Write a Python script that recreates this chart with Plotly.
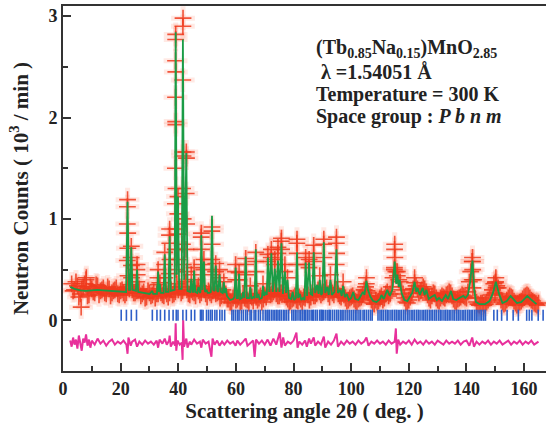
import plotly.graph_objects as go

# ---------------- data ----------------
# calculated profile: (2theta, counts in 10^3/min)
calc_x = [2.5, 4, 6, 8, 10, 12, 14, 16, 18, 20, 21.9, 22.4, 22.9, 23.3, 23.7, 24.1, 25.3, 25.7, 26.1, 28, 30,
          31.0, 31.3, 32.6, 33.0, 33.3, 33.6, 33.9, 34.9, 35.3, 35.7, 36.6, 37.0, 37.4, 38.2, 38.75, 39.1, 39.5,
          39.9, 40.3, 41.2, 41.6, 42.05, 42.8, 43.2, 44.1, 44.5, 44.9, 45.2, 45.5, 45.9, 46.6, 47.0, 47.5, 47.7,
          48.0, 48.4, 48.9, 49.3, 49.8, 50.2, 50.8, 51.3, 51.7, 52.1, 52.6, 53.0, 53.5, 53.9, 54.3, 54.8, 55.4,
          55.8, 56.1, 56.5, 56.9, 58.0, 59.0, 59.5, 59.9, 60.3, 60.7, 61.1, 61.5, 62.1, 62.5, 62.9, 63.4, 63.8,
          64.6, 65.0, 65.4, 66.0, 66.5, 66.9, 67.3, 67.8, 68.2, 69.0, 69.4, 69.8, 70.3, 70.7, 71.1, 71.6, 72.3,
          72.8, 73.5, 74.0, 74.6, 75.1, 75.8, 76.3, 77.0, 77.4, 77.9, 78.4, 79.2, 79.7, 80.2, 80.8, 81.2, 81.6,
          82.2, 82.7, 83.3, 83.8, 84.2, 84.7, 85.4, 85.9, 86.5, 87.0, 87.5, 88.2, 88.7, 89.1, 89.6, 90.0, 90.5,
          91.0, 91.7, 92.2, 92.8, 93.3, 94.2, 94.9, 95.4, 96.2, 96.7, 97.2, 97.8, 98.5, 99.2, 100.0, 100.7,
          101.4, 102.5, 103.3, 104.1, 104.6, 105.3, 105.8, 106.7, 107.6, 108.8, 110.0, 110.5, 111.3, 112.5,
          113.4, 114.3, 115.1, 115.6, 116.0, 116.5, 116.8, 117.5, 118.5, 119.5, 120.5, 121.2, 122.0, 122.6,
          123.0, 123.8, 124.8, 125.5, 126.1, 126.9, 127.8, 129.0, 129.7, 130.5, 131.5, 132.8, 133.6, 134.6,
          135.4, 136.5, 137.5, 138.9, 139.6, 140.5, 141.3, 142.1, 142.7, 143.3, 144.5, 146.5, 148.0, 149.2,
          150.2, 151.2, 152.5, 154.0, 155.3, 156.4, 157.5, 159.0, 160.2, 161.1, 162.2, 163.4, 164.3]
calc_y = [0.33, 0.31, 0.295, 0.29, 0.295, 0.30, 0.295, 0.29, 0.285, 0.28, 0.28, 1.17, 0.30, 0.30, 0.72, 0.30,
          0.29, 0.50, 0.28, 0.27, 0.26,
          0.29, 0.26, 0.26, 0.48, 0.28, 0.36, 0.27, 0.27, 0.65, 0.28, 0.28, 0.83, 0.29, 0.30, 0.30, 2.84, 0.45,
          1.22, 0.31, 0.31, 2.77, 0.40, 1.65, 0.29, 0.28, 0.41, 0.28, 0.28, 0.49, 0.28, 0.27, 0.33, 0.27, 0.28,
          0.84, 0.30, 0.58, 0.28, 0.30, 0.27, 0.27, 0.28, 1.03, 0.30, 0.29, 0.54, 0.29, 0.28, 0.45, 0.28, 0.27,
          0.38, 0.27, 0.32, 0.24, 0.20, 0.21, 0.23, 0.52, 0.22, 0.22, 0.46, 0.21, 0.22, 0.28, 0.22, 0.63, 0.22,
          0.22, 0.33, 0.21, 0.23, 0.22, 0.70, 0.22, 0.26, 0.21, 0.22, 0.34, 0.24, 0.28, 0.25, 0.62, 0.28, 0.66,
          0.28, 0.51, 0.28, 0.59, 0.28, 0.76, 0.26, 0.48, 0.27, 0.40, 0.22, 0.21, 0.28, 0.20, 0.22, 0.67, 0.22,
          0.26, 0.20, 0.22, 0.20, 0.57, 0.24, 0.57, 0.26, 0.25, 0.67, 0.27, 0.35, 0.26, 0.40, 0.25, 0.27, 0.77,
          0.27, 0.33, 0.25, 0.40, 0.25, 0.28, 0.70, 0.27, 0.30, 0.24, 0.34, 0.23, 0.26, 0.20, 0.22, 0.28,
          0.21, 0.20, 0.24, 0.28, 0.25, 0.39, 0.30, 0.23, 0.19, 0.18, 0.21, 0.25, 0.21, 0.30,
          0.24, 0.30, 0.58, 0.36, 0.45, 0.33, 0.40, 0.27, 0.20, 0.19, 0.24, 0.27, 0.38, 0.28,
          0.32, 0.25, 0.32, 0.25, 0.30, 0.21, 0.23, 0.25, 0.20, 0.22, 0.19, 0.25, 0.21, 0.29,
          0.21, 0.20, 0.22, 0.24, 0.22, 0.25, 0.38, 0.59, 0.30, 0.18, 0.16, 0.16, 0.19, 0.27,
          0.38, 0.27, 0.17, 0.19, 0.24, 0.20, 0.17, 0.18, 0.22, 0.24, 0.21, 0.18, 0.16]

# observed counts, background band sampled every degree from 3 to 165
obs_bg_start = 3
obs_bg_y = [0.36, 0.30, 0.34, 0.26, 0.33, 0.40, 0.25, 0.31, 0.27, 0.34, 0.29, 0.32, 0.26, 0.31, 0.27, 0.30, 0.26,
            0.29, 0.27,
            0.27, 0.31, 0.30, 0.27, 0.30, 0.24, 0.28, 0.23, 0.27, 0.25, 0.22, 0.26, 0.27, 0.24, 0.26, 0.27, 0.25,
            0.28, 0.30, 0.27, 0.33, 0.30, 0.25, 0.28, 0.24, 0.29, 0.27, 0.30, 0.23, 0.27, 0.29, 0.26, 0.28, 0.24,
            0.25, 0.21,
            0.18, 0.22, 0.20, 0.23, 0.19, 0.22, 0.20, 0.24, 0.19, 0.23, 0.22, 0.18, 0.25, 0.27, 0.25, 0.28, 0.26,
            0.24, 0.27, 0.25, 0.21, 0.19, 0.22, 0.20, 0.23, 0.18, 0.22, 0.25, 0.23, 0.24, 0.26, 0.28, 0.27, 0.30,
            0.26, 0.29, 0.25, 0.30, 0.24, 0.27, 0.22, 0.20, 0.23,
            0.21, 0.18, 0.22, 0.25, 0.33, 0.27, 0.20, 0.16, 0.18, 0.22,
            0.20, 0.26, 0.24, 0.33, 0.50, 0.44, 0.38, 0.26, 0.18, 0.20,
            0.27, 0.37, 0.31, 0.29, 0.33, 0.28, 0.22, 0.24, 0.26, 0.20,
            0.22, 0.23, 0.25, 0.28, 0.24, 0.19, 0.21, 0.23, 0.24, 0.22,
            0.38, 0.58, 0.22, 0.16, 0.17, 0.15, 0.18, 0.22, 0.30, 0.37,
            0.32, 0.20, 0.16, 0.20, 0.24, 0.22, 0.17, 0.16, 0.19, 0.23,
            0.25, 0.22, 0.19, 0.16, 0.17]

# observed counts, background band at the half degrees from 3.5 to 164.5
obs_half_start = 3.5
obs_half_y = [0.29, 0.38, 0.23, 0.31, 0.36, 0.24, 0.33, 0.28, 0.35, 0.25, 0.30, 0.27, 0.33, 0.24, 0.29, 0.32,
              0.25, 0.30,
              0.25, 0.33, 0.35, 0.27, 0.29, 0.31, 0.26, 0.22, 0.29, 0.24, 0.28, 0.26, 0.31, 0.25, 0.29, 0.23, 0.30,
              0.26, 0.36, 0.33, 0.29, 0.38, 0.26, 0.30, 0.27, 0.31, 0.25, 0.33, 0.26, 0.29, 0.25, 0.31, 0.27, 0.22,
              0.30, 0.26,
              0.21, 0.17, 0.24, 0.21, 0.18, 0.25, 0.21, 0.17, 0.23, 0.26, 0.20, 0.24, 0.21, 0.23, 0.29, 0.26, 0.30,
              0.24, 0.27, 0.29, 0.23, 0.18, 0.21, 0.24, 0.19, 0.21, 0.23, 0.27, 0.20, 0.27, 0.24, 0.30, 0.25, 0.28,
              0.32, 0.23, 0.27, 0.31, 0.26, 0.23, 0.25, 0.19, 0.22,
              0.24, 0.19, 0.21, 0.23, 0.30, 0.29, 0.24, 0.17, 0.20, 0.19,
              0.24, 0.22, 0.28, 0.26, 0.42, 0.48, 0.40, 0.30, 0.22, 0.17,
              0.23, 0.31, 0.34, 0.27, 0.30, 0.31, 0.25, 0.20, 0.27, 0.22,
              0.19, 0.24, 0.22, 0.26, 0.27, 0.21, 0.18, 0.22, 0.25, 0.23,
              0.28, 0.48, 0.40, 0.18, 0.15, 0.17, 0.16, 0.20, 0.25, 0.36,
              0.34, 0.26, 0.18, 0.17, 0.22, 0.23, 0.19, 0.15, 0.18, 0.21,
              0.24, 0.24, 0.20, 0.17, 0.15]

# observed counts on peaks (tops and flanks) and a few outliers
obs_pk_x = [22.4, 22.35, 22.3, 22.45, 22.5, 22.3, 22.55, 23.7, 23.65, 23.75, 23.8, 25.7, 25.65, 25.75, 25.6,
            33.0, 32.95, 33.05, 33.6, 35.3, 35.25, 35.35, 37.0, 36.95, 37.05, 37.1, 36.9,
            39.1, 39.1, 39.05, 39.15, 39.05, 39.1, 39.15, 39.0, 39.2, 39.0, 39.25, 38.95, 39.3,
            39.9, 39.85, 39.95, 40.0,
            41.65, 41.6, 41.55, 41.6, 41.65, 41.5, 41.7, 41.45, 41.75,
            42.8, 42.85, 42.75, 42.9, 42.7, 42.95, 44.5, 45.5, 45.45, 47.0,
            48.0, 47.95, 48.05, 48.1, 48.9, 48.85, 51.7, 51.65, 51.75, 51.6, 51.8,
            53.0, 52.95, 54.3, 54.25, 55.8, 59.9, 59.85, 59.95, 61.1, 61.05, 63.4, 63.35, 63.45, 65.0,
            66.9, 66.85, 66.95, 69.4, 71.1, 71.05, 72.3, 72.25, 73.5, 73.45, 74.6, 74.55, 75.8, 75.75, 75.85,
            77.0, 76.95, 77.9, 81.2, 81.15, 81.25, 81.1, 84.2, 84.15, 85.4, 85.35, 87.0, 86.95, 87.05,
            89.1, 90.5, 90.45, 90.55, 92.8, 94.9, 94.85, 94.95, 94.8, 97.2, 105.3, 105.25,
            115.1, 115.05, 115.15, 115.0, 116.0, 122.0,
            142.1, 142.05, 142.15, 142.0, 142.25, 150.2, 150.1, 150.3, 149.9, 8.1, 6.3]
obs_pk_y = [1.19, 1.12, 0.95, 0.86, 0.71, 0.59, 0.44, 0.73, 0.62, 0.54, 0.42, 0.55, 0.50, 0.45, 0.38,
            0.50, 0.42, 0.35, 0.37, 0.67, 0.55, 0.42, 0.90, 0.84, 0.76, 0.60, 0.46,
            2.82, 2.77, 2.56, 2.45, 2.20, 1.96, 1.93, 1.50, 1.30, 1.15, 0.90, 0.70, 0.50,
            1.22, 1.05, 0.85, 0.60,
            2.98, 2.90, 2.37, 1.66, 1.62, 1.30, 1.00, 0.75, 0.55,
            1.66, 1.60, 1.25, 0.95, 0.70, 0.48, 0.45, 0.52, 0.40, 0.34,
            0.86, 0.82, 0.70, 0.55, 0.60, 0.50, 0.92, 0.88, 0.75, 0.60, 0.45,
            0.56, 0.48, 0.50, 0.42, 0.38, 0.55, 0.48, 0.40, 0.47, 0.40, 0.61, 0.55, 0.45, 0.34,
            0.67, 0.58, 0.48, 0.36, 0.65, 0.58, 0.70, 0.62, 0.60, 0.55, 0.72, 0.66, 0.81, 0.78, 0.70,
            0.55, 0.48, 0.42, 0.80, 0.76, 0.66, 0.55, 0.62, 0.55, 0.60, 0.52, 0.74, 0.66, 0.58,
            0.44, 0.80, 0.75, 0.62, 0.45, 0.82, 0.76, 0.66, 0.55, 0.38, 0.42, 0.36,
            0.75, 0.70, 0.62, 0.52, 0.48, 0.42,
            0.62, 0.58, 0.50, 0.40, 0.32, 0.42, 0.38, 0.32, 0.27, 0.42, 0.13]

# difference curve (obs - calc, offset)
diff_x = [2.5, 3.0, 3.5, 4.0, 4.5, 5.0, 5.5, 6.0, 6.5, 7.0, 7.5, 8.0, 8.5, 9.0, 9.5, 10, 11, 12, 13, 14, 15,
          16, 17, 18, 19, 20, 21, 22.0, 22.4, 22.7, 23.5, 24, 25, 25.7, 26.5, 27.5, 28.5, 29.5, 30.5, 31.5,
          32.5, 33.0, 33.5, 34.5, 35.3, 36, 36.8, 37.0, 37.4, 38.2, 38.9, 39.1, 39.3, 39.7, 40.5, 41.2, 41.5,
          41.7, 42.0, 42.8, 43.2, 44, 44.5, 45.5, 46.5, 47.5, 48.0, 48.5, 49.5, 50.5, 51.5, 51.9, 52.6, 53.5,
          54.3, 55.2, 56.0, 57, 58, 59, 59.9, 60.5, 61.5, 62.5, 63.4, 64, 65, 66, 66.5, 67.0, 68, 69, 70, 71,
          72, 73, 74, 74.8, 75.2, 75.8, 76.4, 77, 78, 79, 80, 81.0, 81.4, 82, 83, 84, 84.6, 85.4, 86, 87.0,
          87.5, 88.5, 89.5, 90.5, 91.0, 92, 93, 94, 94.9, 95.4, 96.5, 97.5, 98.5, 99.5, 100.5, 101.5, 102.5,
          103.5, 104.5, 105.3, 106, 107, 108, 109, 110, 111, 112, 113, 114, 115.1, 115.5, 115.8, 116.3, 117,
          118, 119, 120, 121, 122, 123, 124, 125, 126, 127, 128, 129, 130, 131, 132, 133, 134, 135, 136, 137,
          138, 139, 140, 141, 142, 142.6, 143.5, 144.5, 145.5, 146.5, 147.5, 148.5, 149.5, 150.5, 151.5,
          152.5, 153.5, 154.5, 155.5, 156.5, 157.5, 158.5, 159.5, 160.5, 161.5, 162.5, 163.5, 164.5, 165.0]
diff_y = [-0.20, -0.26, -0.17, -0.24, -0.19, -0.28, -0.15, -0.23, -0.30, -0.18, -0.22, -0.14, -0.25, -0.19,
          -0.27, -0.20, -0.24, -0.18, -0.23, -0.20, -0.25,
          -0.21, -0.19, -0.24, -0.21, -0.23, -0.20, -0.24, -0.33, -0.17, -0.25, -0.21, -0.19, -0.26, -0.21,
          -0.24, -0.20, -0.23, -0.21, -0.24,
          -0.20, -0.27, -0.19, -0.23, -0.18, -0.24, -0.20, -0.15, -0.26, -0.21, -0.25, -0.03, -0.30, -0.20,
          -0.24, -0.22, -0.39,
          0.00, -0.26, -0.18, -0.27, -0.21, -0.24, -0.19, -0.23, -0.21, -0.27, -0.19, -0.23, -0.21, -0.36,
          -0.18, -0.24, -0.20,
          -0.25, -0.21, -0.24, -0.20, -0.23, -0.21, -0.25, -0.20, -0.24, -0.21, -0.18, -0.25, -0.22, -0.20,
          -0.36, -0.19, -0.23, -0.20, -0.24, -0.19,
          -0.25, -0.18, -0.24, -0.16, -0.12, -0.27, -0.17, -0.25, -0.21, -0.23, -0.20, -0.12, -0.27, -0.21,
          -0.24, -0.20, -0.26, -0.18, -0.23, -0.17,
          -0.25, -0.21, -0.24, -0.16, -0.27, -0.21, -0.24, -0.20, -0.13, -0.26, -0.21, -0.24, -0.20, -0.23,
          -0.21, -0.24, -0.20,
          -0.23, -0.21, -0.17, -0.25, -0.21, -0.23, -0.20, -0.23, -0.21, -0.24, -0.20, -0.23, -0.21, -0.08,
          -0.33, -0.19, -0.24,
          -0.21, -0.23, -0.20, -0.24, -0.19, -0.23, -0.21, -0.24, -0.20, -0.23, -0.21, -0.24, -0.20, -0.22,
          -0.24, -0.20, -0.23, -0.21, -0.23, -0.20,
          -0.24, -0.21, -0.20, -0.25, -0.17, -0.26, -0.21, -0.24, -0.21, -0.23, -0.20, -0.24, -0.21, -0.23,
          -0.20,
          -0.24, -0.22, -0.20, -0.24, -0.21, -0.23, -0.20, -0.24, -0.21, -0.23, -0.20, -0.24, -0.22, -0.21]

# Bragg reflection positions (2theta)
bragg_pos = [20.2, 22.0, 23.7, 25.5, 31.0, 32.6, 33.8, 35.3, 36.8, 38.2, 39.3, 39.9, 41.6, 42.8, 44.5, 45.7,
             47.7, 48.1, 48.6, 49.8, 50.5, 51.2, 51.8, 52.7, 53.4, 54.4, 55.2, 56.1,
             58.6, 59.2, 59.9, 60.6, 61.1, 61.9, 62.6, 63.4, 64.0, 64.9, 65.4, 66.3, 66.9, 67.8, 68.5, 69.4,
             70.2, 70.8, 71.1, 71.6, 72.3, 72.9, 73.5, 74.1, 74.6, 75.2, 75.8, 76.5, 77.0, 77.6, 78.3, 79.4,
             80.0, 80.6, 81.2, 81.9, 82.5, 83.1, 83.7, 84.2, 84.8, 85.4, 86.1, 86.6, 87.0, 87.7, 88.3, 89.1,
             89.6, 90.0, 90.5, 91.2, 91.9, 92.4, 92.8, 93.5, 94.2, 94.9, 95.5, 96.2, 96.8, 97.2, 97.9, 98.6,
             99.3, 100.0, 100.7, 101.4, 102.0, 102.7, 103.3, 104.1, 104.6, 105.3, 106.0, 106.7, 107.3,
             109.3, 110.0, 110.6, 111.2, 111.9, 112.5, 113.1, 113.8, 114.4, 115.1, 115.7, 116.3, 116.9,
             117.5, 118.2, 118.8, 119.5, 120.1, 120.8, 121.4, 122.0, 122.7, 123.3, 123.9, 124.6, 125.2,
             125.8, 126.4, 127.1, 127.7, 128.3, 129.0, 129.6, 130.3, 130.9, 131.5, 132.2, 132.8, 133.4,
             134.0, 134.6, 135.3, 135.9, 136.6, 137.2, 137.8, 138.5, 139.1, 139.7, 140.4, 141.0, 141.6,
             142.1, 142.8, 143.4, 144.0, 144.7, 145.3, 146.0, 146.6,
             149.5, 150.7, 152.2, 154.1, 156.2, 158.0, 160.9, 161.8, 162.7, 164.9, 166.6]
bragg_level = 0.05

# ---------------- figure ----------------
obs_x = ([obs_bg_start + i for i in range(len(obs_bg_y))]
         + [obs_half_start + i for i in range(len(obs_half_y))] + obs_pk_x)
obs_y = obs_bg_y + obs_half_y + obs_pk_y

fig = go.Figure()
# soft halo of observed points
fig.add_trace(go.Scatter(x=obs_x, y=obs_y, mode="markers", hoverinfo="skip",
                         marker=dict(symbol="cross-thin", size=17,
                                     line=dict(width=5, color="rgba(255,120,90,0.16)"))))
# observed points
fig.add_trace(go.Scatter(x=obs_x, y=obs_y, mode="markers", name="obs",
                         marker=dict(symbol="cross-thin", size=12,
                                     line=dict(width=1.6, color="rgba(238,58,28,0.85)"))))
# calculated
fig.add_trace(go.Scatter(x=calc_x, y=calc_y, mode="lines", name="calc",
                         line=dict(color="#1a9c46", width=1.8)))
# Bragg positions
fig.add_trace(go.Scatter(x=bragg_pos, y=[bragg_level] * len(bragg_pos), mode="markers", name="Bragg",
                         marker=dict(symbol="line-ns", size=8,
                                     line=dict(width=1.6, color="#2e5fc8"))))
# difference
fig.add_trace(go.Scatter(x=diff_x, y=diff_y, mode="lines", name="diff",
                         line=dict(color="#e8309c", width=2)))

serif = "Liberation Serif, Times New Roman, serif"
axis_common = dict(showline=True, linecolor="#333333", linewidth=2, ticks="inside", ticklen=8,
                   tickwidth=2, tickcolor="#333333", showgrid=False, zeroline=False,
                   tickfont=dict(family=serif, size=18, color="#222222", weight="bold"))

fig.update_layout(
    width=546, height=426,
    margin=dict(l=63, r=0, t=6, b=55),
    paper_bgcolor="white", plot_bgcolor="white",
    showlegend=False,
    xaxis=dict(range=[0, 167.6], dtick=20, tick0=0, mirror=True,
               minor=dict(ticks="inside", ticklen=5, tickwidth=1.5, dtick=10, tickcolor="#333333"),
               title=dict(text="Scattering angle 2θ ( deg. )", standoff=2,
                          font=dict(family=serif, size=21, color="#222222", weight="bold")),
               **axis_common),
    yaxis=dict(range=[-0.5, 3.1], dtick=1, tick0=0, mirror=False,
               minor=dict(ticks="inside", ticklen=5, tickwidth=1.5, dtick=0.5, tickcolor="#333333"),
               title=dict(text="Neutron Counts ( 10<sup>3</sup> / min )", standoff=14,
                          font=dict(family=serif, size=21, color="#222222", weight="bold")),
               **axis_common),
)

ann_font = dict(family=serif, size=20, color="#222222")
lines = [
    ("<b>(Tb<sub>0.85</sub>Na<sub>0.15</sub>)MnO<sub>2.85</sub></b>", 0.52, 0.883),
    ("<b> λ =1.54051 Å</b>", 0.52, 0.818),
    ("<b>Temperature = 300 K</b>", 0.52, 0.757),
    ("<b>Space group : <i>P b n m</i></b>", 0.52, 0.697),
]
for txt, ax, ay in lines:
    fig.add_annotation(text=txt, x=ax, y=ay, xref="paper", yref="paper", xanchor="left",
                       yanchor="middle", showarrow=False, font=ann_font)

fig.write_html("out.html")
